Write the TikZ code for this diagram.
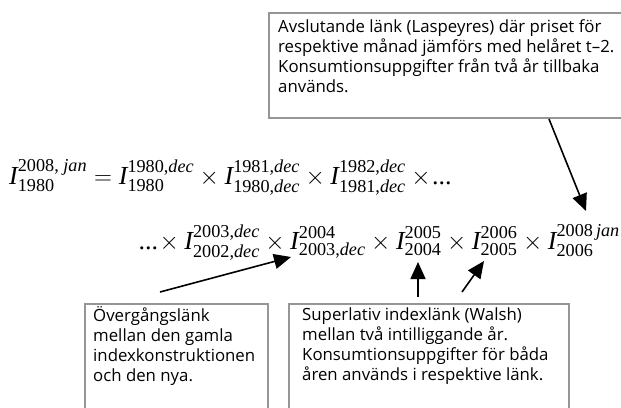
\documentclass[tikz,border=0pt]{standalone}
\usepackage{amsmath}
\usepackage{fontspec}
\setmainfont{Liberation Serif}
\newfontfamily\rutfont{Open Sans}
\usetikzlibrary{arrows.meta}
\definecolor{ramgra}{RGB}{150,150,150}
\newcommand{\ix}[2]{\textit{I}_{\text{#1}}^{\text{#2}}}

\begin{document}
\begin{tikzpicture}[x=1pt, y=-1pt,
    ram/.style = {draw=ramgra, line width=2pt, anchor=north west, inner sep=0pt},
    txt/.style = {anchor=north west, inner sep=0pt, align=left, font=\rutfont\fontsize{16.8}{20}\selectfont},
    ekv/.style = {inner sep=0pt, font=\fontsize{26}{31}\selectfont},
    pil/.style = {-{Triangle[length=17pt, width=15pt]}, line width=1.6pt}]
    \clip (0,0) rectangle (621,407);
    \node[ekv, anchor=base west] (rad1) at (9,184)
        {$\ix{1980}{2008, \textit{jan}} = \ix{1980}{1980,\textit{dec}} \times \ix{1980,\textit{dec}}{1981,\textit{dec}} \times \ix{1981,\textit{dec}}{1982,\textit{dec}} \times\!\text{...}$};
    \node[ekv, anchor=base east] (rad2) at (620,249)
        {$\text{...}\!\times \ix{2002,\textit{dec}}{2003,\textit{dec}} \times \ix{2003,\textit{dec}}{2004} \times \ix{2004}{2005} \times \ix{2005}{2006} \times \ix{2006}{2008\,\textit{jan}}$};
    \node[ram, minimum width=372pt, minimum height=105pt] (laspram) at (268,12) {};
    \node[ram, minimum width=183pt, minimum height=130pt] (overgram) at (84,303) {};
    \node[ram, minimum width=280pt, minimum height=130pt] (walshram) at (288,303) {};
    \node[txt] (lasp) at (278,19) {Avslutande länk (Laspeyres) där priset för\\respektive månad jämförs med helåret t–2.\\Konsumtionsuppgifter från två år tillbaka\\används.};
    \node[txt] (overg) at (93,306) {Övergångslänk\\mellan den gamla\\indexkonstruktionen\\och den nya.};
    \node[txt] (walsh) at (302,308) {Superlativ indexlänk (Walsh)\\mellan två intilliggande år.\\Konsumtionsuppgifter för båda\\åren används i respektive länk.};
    \coordinate (t2008) at (586,211);
    \coordinate (t2003) at (291,257);
    \coordinate (t2004) at (418,262);
    \coordinate (t2005) at (484,261);
    \draw[pil] ([xshift=281pt]laspram.south west) -- (t2008);
    \draw[pil] ([xshift=76pt, yshift=11pt]overgram.north west) -- (t2003);
    \draw[pil] ([xshift=130pt, yshift=6pt]walshram.north west) -- (t2004);
    \draw[pil] ([xshift=174pt, yshift=11pt]walshram.north west) -- (t2005);
\end{tikzpicture}
\end{document}
